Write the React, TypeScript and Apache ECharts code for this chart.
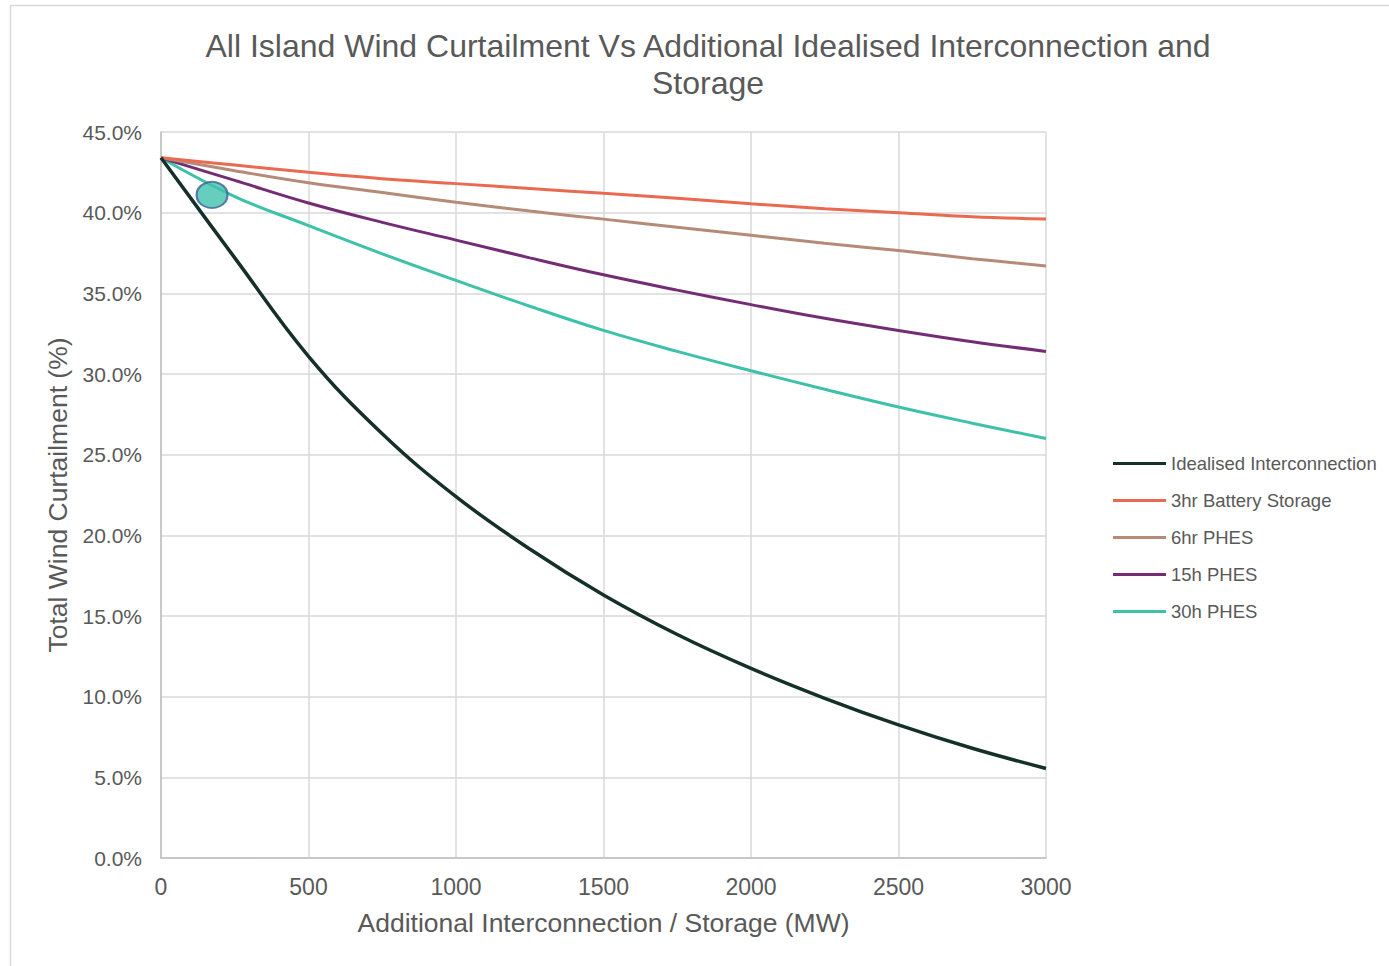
import React, { useEffect, useRef } from "react";
import * as echarts from "echarts";

const xValues = [0, 250, 500, 750, 1000, 1250, 1500, 1750, 2000, 2250, 2500, 2750, 3000];
const idealised = [43.4, 37.2, 31.1, 26.3, 22.4, 19.15, 16.3, 13.85, 11.75, 9.9, 8.25, 6.8, 5.55];
const battery3hr = [43.4, 42.95, 42.5, 42.1, 41.8, 41.5, 41.2, 40.9, 40.55, 40.25, 40.0, 39.75, 39.6];
const phes6hr = [43.4, 42.6, 41.85, 41.25, 40.65, 40.1, 39.6, 39.1, 38.6, 38.1, 37.65, 37.15, 36.7];
const phes15h = [43.4, 42.0, 40.6, 39.4, 38.3, 37.2, 36.15, 35.2, 34.3, 33.45, 32.7, 32.0, 31.4];
const phes30h = [43.4, 41.0, 39.2, 37.45, 35.8, 34.2, 32.7, 31.4, 30.2, 29.05, 27.95, 26.95, 26.0];
const markerPoint = [173, 41.1];
const seriesNames = ["Idealised Interconnection", "3hr Battery Storage", "6hr PHES", "15h PHES", "30h PHES"];
const seriesColors = ["#15302A", "#E96A50", "#B58B78", "#742D75", "#3DC1A9"];
const xTicks = { min: 0, max: 3000, interval: 500 };
const yTicks = { min: 0, max: 45, interval: 5 };

const FONT = "Liberation Sans, Arial, sans-serif";
const GREY = "#595959";

export default function App() {
  const ref = useRef<HTMLDivElement>(null);
  useEffect(() => {
    if (!ref.current) return;
    const chart = echarts.init(ref.current, undefined, { renderer: "svg" });
    const allData = [idealised, battery3hr, phes6hr, phes15h, phes30h];
    const lineSeries = allData.map((arr, i) => ({
      name: seriesNames[i],
      type: "line",
      smooth: 0.4,
      symbol: "none",
      showSymbol: false,
      data: xValues.map((x, j) => [x, arr[j]]),
      lineStyle: { color: seriesColors[i], width: i === 0 ? 3.5 : 3 },
      itemStyle: { color: seriesColors[i] },
      z: 5 - i,
    }));
    chart.setOption({
      animation: false,
      backgroundColor: "#ffffff",
      textStyle: { fontFamily: FONT },
      graphic: [
        {
          type: "rect",
          shape: { x: 10.5, y: 5.5, width: 1420, height: 1000 },
          style: { fill: "none", stroke: "#D9D9D9", lineWidth: 1.5 },
          silent: true,
        },
        {
          type: "text",
          x: 708,
          y: 27,
          style: {
            text: "All Island Wind Curtailment Vs Additional Idealised Interconnection and\nStorage",
            fontFamily: FONT,
            fontSize: 32,
            lineHeight: 37,
            fill: GREY,
            textAlign: "center",
            textVerticalAlign: "top",
          },
        },
      ],
      grid: { left: 161, right: 343, top: 132, bottom: 108, containLabel: false },
      legend: {
        orient: "vertical",
        left: 1113,
        top: 453,
        padding: 0,
        itemWidth: 53,
        itemHeight: 3,
        itemGap: 16,
        icon: "rect",
        data: seriesNames.map((n, i) => ({ name: n, itemStyle: { color: seriesColors[i] } })),
        textStyle: { fontFamily: FONT, fontSize: 18.5, color: GREY, lineHeight: 21 },
      },
      xAxis: {
        type: "value",
        min: xTicks.min,
        max: xTicks.max,
        interval: xTicks.interval,
        name: "Additional Interconnection / Storage (MW)",
        nameLocation: "middle",
        nameGap: 51,
        nameTextStyle: { fontFamily: FONT, fontSize: 26.5, color: GREY },
        axisLine: { show: true, lineStyle: { color: "#BFBFBF", width: 1.5 } },
        axisTick: { show: false },
        axisLabel: {
          fontFamily: FONT,
          fontSize: 23,
          color: GREY,
          margin: 17,
          formatter: (v: number) => String(v),
        },
        splitLine: { show: true, lineStyle: { color: "#D9D9D9", width: 1.5 } },
      },
      yAxis: {
        type: "value",
        min: yTicks.min,
        max: yTicks.max,
        interval: yTicks.interval,
        name: "Total Wind Curtailment (%)",
        nameLocation: "middle",
        nameGap: 88,
        nameTextStyle: { fontFamily: FONT, fontSize: 26.5, color: GREY },
        axisLine: { show: true, lineStyle: { color: "#BFBFBF", width: 1.5 } },
        axisTick: { show: false },
        axisLabel: {
          fontFamily: FONT,
          fontSize: 21,
          color: GREY,
          margin: 19,
          formatter: (v: number) => v.toFixed(1) + "%",
        },
        splitLine: { show: true, lineStyle: { color: "#D9D9D9", width: 1.5 } },
      },
      series: [
        ...lineSeries,
        {
          name: "marker",
          type: "scatter",
          data: [markerPoint],
          symbol: "circle",
          symbolSize: [31, 26],
          itemStyle: { color: "#40C2AB", borderColor: "#3F5E9A", borderWidth: 2 },
          z: 10,
          silent: true,
        },
      ],
    });
    return () => chart.dispose();
  }, []);
  return (
    <div
      ref={ref}
      style={{ position: "fixed", left: 0, top: 0, width: 1389, height: 966 }}
    />
  );
}
